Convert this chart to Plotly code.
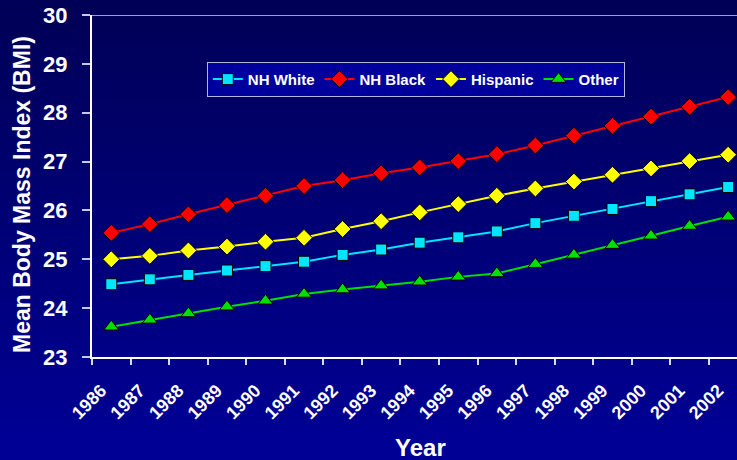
import plotly.graph_objects as go

# Survey years and mean BMI by race/ethnicity group
years = [str(y) for y in range(1986, 2003)]
nh_white = [24.49, 24.59, 24.68, 24.77, 24.86, 24.95, 25.09, 25.20, 25.34,
            25.45, 25.57, 25.74, 25.89, 26.03, 26.19, 26.33, 26.48]
nh_black = [25.54, 25.72, 25.92, 26.11, 26.30, 26.50, 26.62, 26.76, 26.88,
            27.01, 27.15, 27.33, 27.53, 27.73, 27.92, 28.12, 28.32]
hispanic = [25.00, 25.07, 25.18, 25.26, 25.36, 25.44, 25.62, 25.78, 25.96,
            26.13, 26.30, 26.45, 26.59, 26.73, 26.86, 27.01, 27.14]
other = [23.62, 23.76, 23.89, 24.03, 24.15, 24.29, 24.38, 24.46, 24.54,
         24.64, 24.71, 24.90, 25.09, 25.29, 25.48, 25.68, 25.87]

y_ticks = [23, 24, 25, 26, 27, 28, 29, 30]

FONT = "Liberation Sans"

series = [
    ("NH White", nh_white, "#00E5FF", "square", 11),
    ("NH Black", nh_black, "#FF0000", "diamond", 13),
    ("Hispanic", hispanic, "#FFFF00", "diamond", 13),
    ("Other", other, "#00E000", "triangle-up", 13),
]

fig = go.Figure()
for name, vals, color, sym, size in series:
    fig.add_trace(go.Scatter(
        x=years, y=vals, name=name, mode="lines+markers",
        line=dict(color=color, width=2),
        marker=dict(symbol=sym, size=size, color=color,
                    line=dict(color="#000000", width=1)),
        cliponaxis=False,
    ))

# Vertical background gradient built from thin bands
W, H = 737, 460
L, R, T, B = 92, 0, 15, 103
pw, ph = W - L - R, H - T - B
top_rgb = (0, 0, 86)
bot_rgb = (0, 0, 150)
n_bands = 46
shapes = []
for i in range(n_bands):
    y0_px = H * i / n_bands
    y1_px = H * (i + 1) / n_bands
    f = (i + 0.5) / n_bands
    c = tuple(round(a + (b - a) * f) for a, b in zip(top_rgb, bot_rgb))
    shapes.append(dict(
        type="rect", xref="paper", yref="paper", layer="below",
        x0=-L / pw, x1=1 + R / pw,
        y0=1 - (y1_px - T) / ph - 0.002, y1=1 - (y0_px - T) / ph + 0.002,
        fillcolor="rgb(%d,%d,%d)" % c, line=dict(width=0),
    ))
# top frame line at the axis maximum
shapes.append(dict(type="line", xref="paper", yref="y", x0=0, x1=1,
                   y0=30, y1=30, line=dict(color="#9C9CD0", width=2)))

fig.update_layout(
    width=W, height=H,
    margin=dict(l=L, r=R, t=T, b=B),
    paper_bgcolor="rgb(0,0,150)",
    plot_bgcolor="rgba(0,0,0,0)",
    shapes=shapes,
    font=dict(family=FONT, color="white"),
    showlegend=True,
    legend=dict(
        orientation="h", x=0.178, y=0.863, xanchor="left", yanchor="top",
        bgcolor="#00009C", bordercolor="#B4B4DC", borderwidth=1,
        font=dict(family=FONT, size=15, color="white", weight="bold"),
        itemwidth=30, tracegroupgap=0,
    ),
    xaxis=dict(
        type="category", range=[-0.5, 16.23],
        tickson="boundaries", ticks="outside", ticklen=6, tickwidth=2,
        tickcolor="#D8D8F0", showline=True, linecolor="white", linewidth=2,
        showgrid=False, zeroline=False, tickangle=-45,
        ticklabelshift=-10, ticklabelstandoff=14,
        tickfont=dict(family=FONT, size=18, color="white", weight="bold"),
    ),
    yaxis=dict(
        range=[23, 30], tickvals=y_ticks, ticks="outside", ticklen=8,
        tickwidth=2, tickcolor="#C8C8E8", showline=True, linecolor="white",
        linewidth=2, showgrid=False, zeroline=False, ticklabelstandoff=10,
        tickfont=dict(family=FONT, size=22, color="white", weight="bold"),
    ),
    annotations=[
        dict(text="Year", xref="paper", yref="paper",
             x=(420 - L) / pw, y=1 - (447 - T) / ph,
             xanchor="center", yanchor="middle", showarrow=False,
             font=dict(family=FONT, size=24, color="white", weight="bold")),
        dict(text="Mean Body Mass Index (BMI)", xref="paper", yref="paper",
             x=(22 - L) / pw, y=1 - (195 - T) / ph, textangle=-90,
             xanchor="center", yanchor="middle", showarrow=False,
             font=dict(family=FONT, size=23, color="white", weight="bold")),
    ],
)

fig.write_html("out.html")
